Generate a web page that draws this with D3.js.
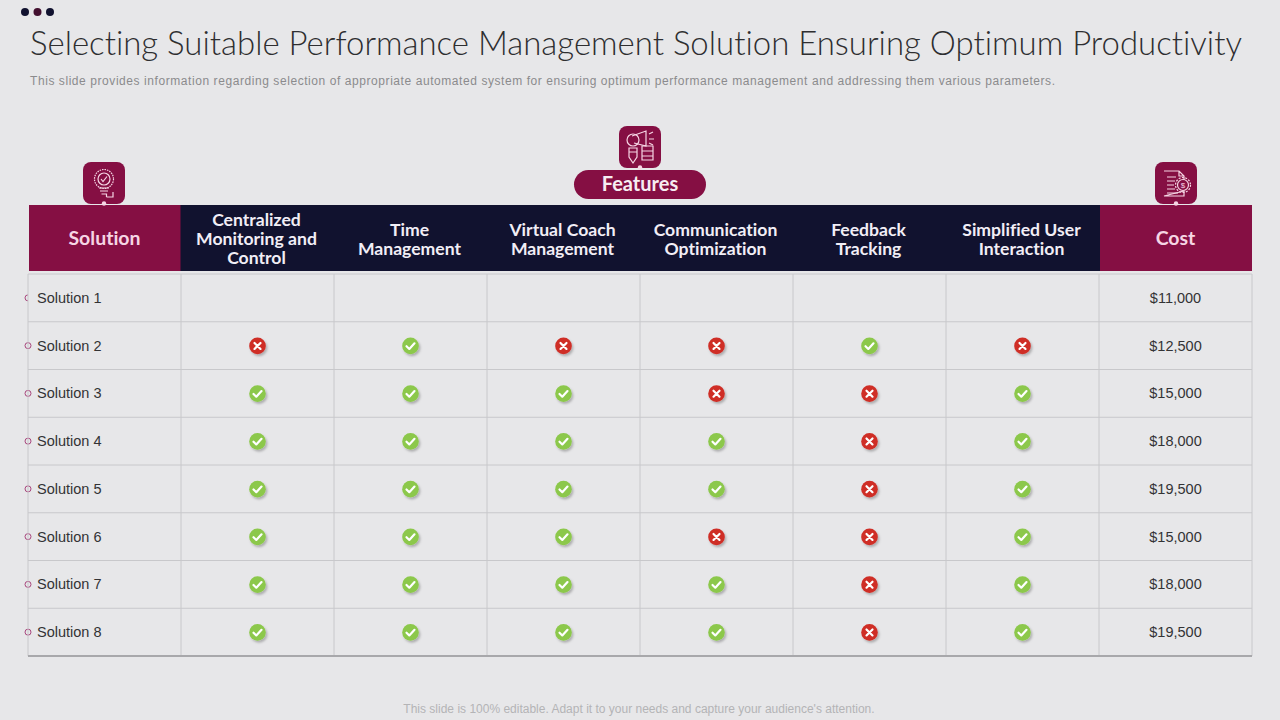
<!DOCTYPE html>
<html lang="en">
<head>
<meta charset="UTF-8" />
<title>Selecting Suitable Performance Management Solution</title>
<script src="https://d3js.org/d3.v7.min.js"></script>
<style>
    html, body { margin: 0; padding: 0; background: #e7e7e9; }
    svg { display: block; }
    text { font-family: "Liberation Sans", Arial, sans-serif; }
    .head { font-family: Lato, "Open Sans", sans-serif; font-weight: 700; }
</style>
</head>
<body>
<svg id="chart" width="1280" height="720"></svg>
<script>
const titleText = "Selecting Suitable Performance Management Solution Ensuring Optimum Productivity";
const subtitleText = "This slide provides information regarding selection of appropriate automated system for ensuring optimum performance management and addressing them various parameters.";
const footerText = "This slide is 100% editable. Adapt it to your needs and capture your audience's attention.";

const features = ["Centralized|Monitoring and|Control", "Time|Management", "Virtual Coach|Management",
    "Communication|Optimization", "Feedback|Tracking", "Simplified User|Interaction"];
const solutions = ["Solution 1", "Solution 2", "Solution 3", "Solution 4", "Solution 5", "Solution 6", "Solution 7", "Solution 8"];
const costs = ["$11,000", "$12,500", "$15,000", "$18,000", "$19,500", "$15,000", "$18,000", "$19,500"];
// 1 = tick, 0 = cross, one row per solution (Solution 1 is empty)
const marks = [
    [],
    [0, 1, 0, 0, 1, 0],
    [1, 1, 1, 0, 0, 1],
    [1, 1, 1, 1, 0, 1],
    [1, 1, 1, 1, 0, 1],
    [1, 1, 1, 0, 0, 1],
    [1, 1, 1, 1, 0, 1],
    [1, 1, 1, 1, 0, 1]
];

const maroon = "#850f43", navy = "#11122f", pink = "#f6d5e4", bg = "#e7e7e9";
const svg = d3.select("#chart");
const columns = ["Solution"].concat(features, ["Cost"]);

const x = d3.scaleBand().domain(d3.range(columns.length)).range([28, 1252]);
const y = d3.scaleBand().domain(d3.range(solutions.length)).range([274, 656]);

// drop shadow for the status icons
const filter = svg.append("defs").append("filter").attr("id", "shadow")
    .attr("x", "-50%").attr("y", "-50%").attr("width", "200%").attr("height", "200%");
filter.append("feDropShadow").attr("dx", 1.5).attr("dy", 2).attr("stdDeviation", 1.2)
    .attr("flood-color", "#000").attr("flood-opacity", 0.25);

// top dots
svg.selectAll(".dot").data(["#11122f", "#43102f", "#11122f"]).enter().append("circle")
    .attr("cx", (d, i) => 25 + i * 12.5).attr("cy", 12).attr("r", 4).attr("fill", d => d);

// titles
svg.append("text").attr("x", 30).attr("y", 55).attr("textLength", 1212).attr("lengthAdjust", "spacingAndGlyphs")
    .style("font-family", "Lato, sans-serif").style("font-weight", 300).style("font-variant-ligatures", "none")
    .attr("font-size", 33).attr("fill", "#2e2e30")
    .text(titleText);
svg.append("text").attr("x", 30).attr("y", 85).attr("textLength", 1025)
    .attr("font-size", 12).attr("fill", "#8b8b8d").text(subtitleText);
svg.append("text").attr("x", 639).attr("y", 713).attr("text-anchor", "middle")
    .attr("font-size", 12).attr("fill", "#b4b4b6").text(footerText);

// header band
svg.append("rect").attr("x", 29).attr("y", 205).attr("width", 1071).attr("height", 66).attr("fill", navy);
svg.append("rect").attr("x", 29).attr("y", 205).attr("width", 151.5).attr("height", 66).attr("fill", maroon);
svg.append("rect").attr("x", 1100).attr("y", 205).attr("width", 152).attr("height", 66).attr("fill", maroon);

columns.forEach((c, i) => {
    const lines = c.split("|");
    const big = i === 0 || i === columns.length - 1;
    const cx = x(i) + x.bandwidth() / 2 - (big ? 0 : 1);
    svg.append("text").attr("class", "head").attr("text-anchor", "middle")
        .attr("fill", big ? pink : "#f1eef6").attr("font-size", big ? 19.5 : 17.6)
        .style("font-variant-ligatures", "none")
        .selectAll("tspan").data(lines).enter().append("tspan")
        .attr("x", cx)
        .attr("y", (d, k) => 239 + (k - (lines.length - 1) / 2) * 19 + 6)
        .text(d => d);
});

// row markers go under the grid; the first one is half hidden in the slide
solutions.forEach((s, r) => {
    const cy = y(r) + y.bandwidth() / 2;
    svg.append("circle").attr("cx", 28).attr("cy", cy).attr("r", 3)
        .attr("fill", bg).attr("stroke", "#a8457c").attr("stroke-width", 1);
    if (r === 0) {
        svg.append("rect").attr("x", 28).attr("y", cy - 5).attr("width", 6).attr("height", 10).attr("fill", bg);
    }
});

// grid
const grid = svg.append("g").attr("stroke", "#c8c8cb").attr("stroke-width", 1);
d3.range(columns.length + 1).forEach(i => {
    const gx = i === columns.length ? x.range()[1] : x(i);
    grid.append("line").attr("x1", gx).attr("x2", gx).attr("y1", 274).attr("y2", 656);
});
d3.range(solutions.length + 1).forEach(i => {
    const gy = i === solutions.length ? y.range()[1] : y(i);
    grid.append("line").attr("x1", 28).attr("x2", 1252).attr("y1", gy).attr("y2", gy)
        .attr("stroke", i === solutions.length ? "#a8a8ab" : "#c8c8cb")
        .attr("stroke-width", i === solutions.length ? 2 : 1);
});

// row labels and costs
solutions.forEach((s, r) => {
    const cy = y(r) + y.bandwidth() / 2;
    svg.append("text").attr("x", 37).attr("y", cy + 4.9).attr("font-size", 14.5).attr("fill", "#333335").text(s);
    svg.append("text").attr("x", x(7) + x.bandwidth() / 2).attr("y", cy + 4.9).attr("text-anchor", "middle")
        .attr("font-size", 14.5).attr("fill", "#333335").text(costs[r]);

    marks[r].forEach((m, c) => {
        const g = svg.append("g")
            .attr("transform", `translate(${x(c + 1) + x.bandwidth() / 2},${cy + 0.3})`);
        g.append("circle").attr("r", 8.3).attr("fill", m ? "#8cc84b" : "#cf2e26").attr("filter", "url(#shadow)");
        g.append("path").attr("fill", "none").attr("stroke", "#fff").attr("stroke-width", 2.2)
            .attr("stroke-linecap", "round").attr("stroke-linejoin", "round")
            .attr("d", m ? "M-4,0.3L-1.2,3L4,-2.6" : "M-3,-3L3,3M3,-3L-3,3");
    });
});

// rounded icon tiles
function tile(cx, top, draw) {
    const g = svg.append("g").attr("transform", `translate(${cx},${top})`);
    g.append("rect").attr("x", -21).attr("y", 0).attr("width", 42).attr("height", 42).attr("rx", 8)
        .attr("fill", maroon);
    g.append("circle").attr("cy", 41.5).attr("r", 2.2).attr("fill", pink);
    const art = g.append("g").attr("fill", "none").attr("stroke", pink).attr("stroke-width", 1.2);
    draw(art);
}

tile(104, 162, a => {
    a.append("circle").attr("cy", 17).attr("r", 9.5).attr("stroke-dasharray", "1.5 1");
    a.append("circle").attr("cy", 17).attr("r", 6);
    a.append("path").attr("d", "M-3,17L-1,19.5L3,14.5M-5,26H5M-4,29H4M-2.5,32H2.5V35M2.5,35H9V30");
});

tile(640, 126, a => {
    a.append("circle").attr("cx", -7).attr("cy", 14).attr("r", 6);
    a.append("path").attr("d", "M-8,10L6,5V20L-6,17M9,8L13,6M9,13H14M9,17L13,19");
    a.append("path").attr("d", "M-11,22H-3V31L-7,37L-11,31Z M-11,26H-3");
    a.append("path").attr("d", "M2,20H13V34H2Z M2,25H13M2,30H13");
});

tile(1176, 162, a => {
    a.append("path").attr("d", "M-12,9H3L8,14V18M8,29V34H-12Z M3,9V14H8");
    a.append("path").attr("d", "M-9,15H0M-9,19H-1M-9,23H-2M-9,27H-1M-9,31H2");
    a.append("circle").attr("cx", 7).attr("cy", 23).attr("r", 5.5);
    a.append("circle").attr("cx", 7).attr("cy", 23).attr("r", 7.5).attr("stroke-dasharray", "2 1.4");
    a.append("text").attr("x", 7).attr("y", 26).attr("text-anchor", "middle").attr("font-size", 8)
        .attr("fill", pink).attr("stroke", "none").text("$");
});

// Features pill
svg.append("rect").attr("x", 574).attr("y", 170).attr("width", 132).attr("height", 29).attr("rx", 14.5).attr("fill", maroon);
svg.append("text").attr("class", "head").attr("x", 640).attr("y", 191).attr("text-anchor", "middle")
    .attr("font-size", 20).attr("fill", "#f7edf2").text("Features");
</script>
</body>
</html>
